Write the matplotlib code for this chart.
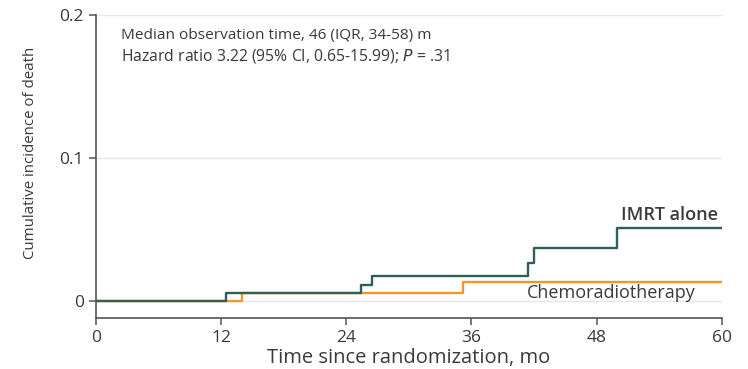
import matplotlib
matplotlib.use("Agg")
import matplotlib.pyplot as plt

# Cumulative incidence step data (months, cumulative incidence)
imrt_t = [0, 12.5, 25.4, 26.5, 41.4, 42.0, 50.0, 60]
imrt_y = [0, 0.0054, 0.0112, 0.0177, 0.0264, 0.0368, 0.0513, 0.0513]
chemo_t = [0, 14.0, 35.2, 60]
chemo_y = [0, 0.0054, 0.0135, 0.0135]

x_ticks = [0, 12, 24, 36, 48, 60]
y_ticks = [0, 0.1, 0.2]
y_tick_labels = ["0", "0.1", "0.2"]

imrt_color = "#2f5e5c"
chemo_color = "#f5962a"
text_color = "#3a3a3a"
font = ["Open Sans", "DejaVu Sans"]

fig = plt.figure(figsize=(7.48, 3.69), dpi=100)
ax = fig.add_axes([0.128, 0.138, 0.837, 0.821])

for yv in y_ticks:
    ax.axhline(yv, color="#e6e6e6", lw=1.0, zorder=0)

ax.step(imrt_t, imrt_y, where="post", color=imrt_color, lw=1.7, zorder=3)
ax.step(chemo_t, chemo_y, where="post", color=chemo_color, lw=1.7, zorder=2)

ax.set_xlim(0, 60)
ax.set_ylim(-0.012, 0.2)
ax.set_xticks(x_ticks)
ax.set_yticks(y_ticks)
ax.set_yticklabels(y_tick_labels)

for s in ["top", "right"]:
    ax.spines[s].set_visible(False)
for s in ["left", "bottom"]:
    ax.spines[s].set_color("#555555")
    ax.spines[s].set_linewidth(1.2)
ax.tick_params(axis="both", colors="#555555", labelcolor=text_color,
               labelsize=12.5, length=5, width=1.1)
for lab in ax.get_xticklabels() + ax.get_yticklabels():
    lab.set_family(font)

ax.set_xlabel("Time since randomization, mo", fontsize=14.5, color=text_color,
              family=font, labelpad=1.5)
ax.set_ylabel("Cumulative incidence of death", fontsize=10.8, color=text_color,
              family=font)
ax.yaxis.set_label_coords(-0.092, 0.545)

ax.text(2.4, 0.186, "Median observation time, 46 (IQR, 34-58) m",
        fontsize=11.1, color=text_color, family=font, va="center")
ax.text(2.4, 0.1715, "Hazard ratio 3.22 (95% CI, 0.65-15.99); $\\it{P}$ = .31",
        fontsize=11.3, color=text_color, family=font, va="center")

ax.text(59.6, 0.060, "IMRT alone", fontsize=13, color=text_color,
        family=font, ha="right", va="center", fontweight="semibold")
ax.text(57.5, 0.0058, "Chemoradiotherapy", fontsize=13, color=text_color,
        family=font, ha="right", va="center")

fig.savefig("out.png", dpi=100)
